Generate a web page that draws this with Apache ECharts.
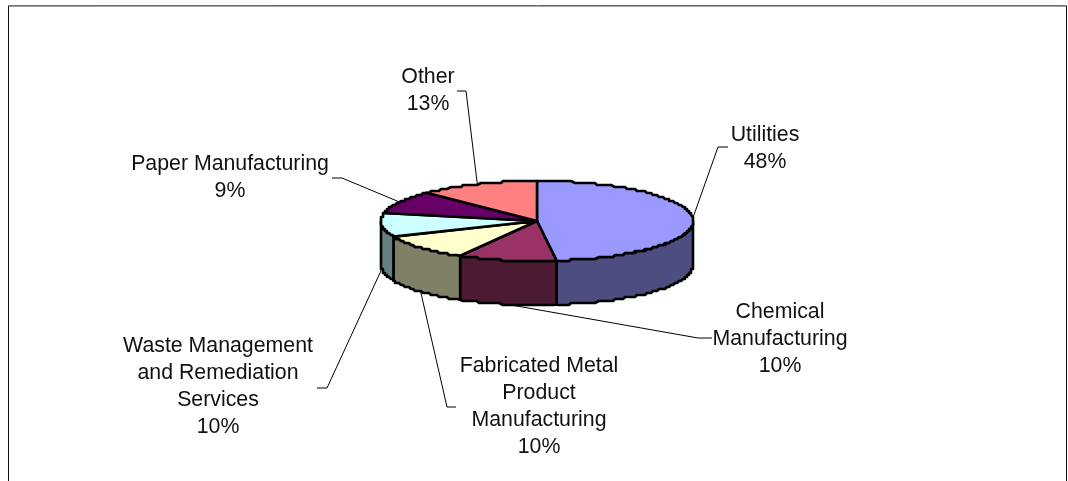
<!DOCTYPE html>
<html>
<head>
<meta charset="utf-8">
<style>html,body{margin:0;padding:0;background:#fff}#c{width:1068px;height:481px}</style>
<script src="https://cdn.jsdelivr.net/npm/echarts@6/dist/echarts.min.js"></script>
</head>
<body>
<div id="c"></div>
<script>
// Data (percent shares, clockwise from 12 o'clock)
var categories = ['Utilities', 'Chemical\nManufacturing', 'Fabricated Metal\nProduct\nManufacturing',
  'Waste Management\nand Remediation\nServices', 'Paper Manufacturing', 'Other'];
var shares = [48, 10.2, 10.4, 9.6, 9.3, 12.5];

// Styles
var topColors  = ['#9999FF', '#993366', '#FFFFCC', '#CCFFFF', '#660066', '#FF8080'];
var sideColors = ['#4D4D80', '#4D1A33', '#808066', '#668080', '#330033', '#804040'];

// Layout
var pie = { cx: 537, cy: 221, rx: 156, ry: 40, depth: 44, stair: 2 };
var labelCenters = [[765, 148.5], [780, 339], [539, 407], [218, 386.5], [230, 178], [428, 91]];
var leaderElbows = [
  [[718, 147], [728, 147]],
  [[698, 338], [712, 338]],
  [[447, 407], [456, 407]],
  [[327, 388], [317, 388]],
  [[342, 178], [332, 178]],
  [[466, 91], [457, 91]]
];

var total = shares.reduce(function (a, b) { return a + b; }, 0);
function startAngle(i) {
  var s = 0;
  for (var k = 0; k < i; k++) s += shares[k];
  return s / total * 2 * Math.PI;
}
function rim(theta, dy) {
  return [pie.cx + pie.rx * Math.sin(theta), pie.cy - pie.ry * Math.cos(theta) + (dy || 0)];
}
// The outline of the reference has a slight stair-step: snap the rim to a coarse grid.
function snap(p) {
  var s = pie.stair;
  return [pie.cx + Math.round((p[0] - pie.cx) / s) * s, pie.cy + Math.round((p[1] - pie.cy) / s) * s];
}
function arc(a, b, dy) {
  var pts = [], n = Math.max(2, Math.ceil(Math.abs(b - a) / 0.02));
  for (var k = 0; k <= n; k++) {
    var edge = k === 0 || k === n;
    pts.push(edge ? rim(a + (b - a) * k / n, dy) : snap(rim(a + (b - a) * k / n, dy)));
  }
  return pts;
}

function renderSide(params, api) {
  var i = api.value(0);
  var a = Math.max(startAngle(i), Math.PI / 2);
  var b = Math.min(startAngle(i + 1), Math.PI * 3 / 2);
  if (b <= a) return { type: 'group', children: [] };
  var pts = arc(a, b, 0).concat(arc(b, a, pie.depth));
  return {
    type: 'polygon', shape: { points: pts },
    style: { fill: sideColors[i], stroke: '#000', lineWidth: 2.6, lineJoin: 'round' }
  };
}
function renderTop(params, api) {
  var i = api.value(0);
  var pts = [[pie.cx, pie.cy]].concat(arc(startAngle(i), startAngle(i + 1), 0));
  return {
    type: 'polygon', shape: { points: pts },
    style: { fill: topColors[i], stroke: '#000', lineWidth: 2.6, lineJoin: 'round' }
  };
}
function renderLabel(params, api) {
  var i = api.value(0);
  var mid = (startAngle(i) + startAngle(i + 1)) / 2;
  var front = mid > Math.PI / 2 && mid < Math.PI * 3 / 2;
  var anchor = rim(mid, front ? pie.depth : 0);
  return {
    type: 'group',
    children: [
      {
        type: 'polyline', shape: { points: [anchor].concat(leaderElbows[i]) },
        style: { fill: 'none', stroke: '#000', lineWidth: 1 }
      },
      {
        type: 'text',
        style: {
          text: categories[i] + '\n' + Math.round(api.value(1)) + '%',
          x: labelCenters[i][0], y: labelCenters[i][1],
          align: 'center', verticalAlign: 'middle',
          fontFamily: '"Liberation Sans", Arial, sans-serif', fontSize: 21.3, lineHeight: 27,
          fill: '#111'
        }
      }
    ]
  };
}

var rows = shares.map(function (v, i) { return [i, v]; });
var chart = echarts.init(document.getElementById('c'), null, { renderer: 'canvas' });
chart.setOption({
  animation: false,
  backgroundColor: '#fff',
  graphic: [{
    type: 'rect', silent: true, z: 0,
    shape: { x: 8.5, y: 5.9, width: 1058, height: 520 },
    style: { fill: 'none', stroke: '#111', lineWidth: 1 }
  }],
  series: [
    { type: 'custom', coordinateSystem: 'none', silent: true, z: 2, data: rows, renderItem: renderSide },
    { type: 'custom', coordinateSystem: 'none', silent: true, z: 3, data: rows, renderItem: renderTop },
    { type: 'custom', coordinateSystem: 'none', silent: true, z: 1, data: rows, renderItem: renderLabel }
  ]
});
</script>
</body>
</html>
